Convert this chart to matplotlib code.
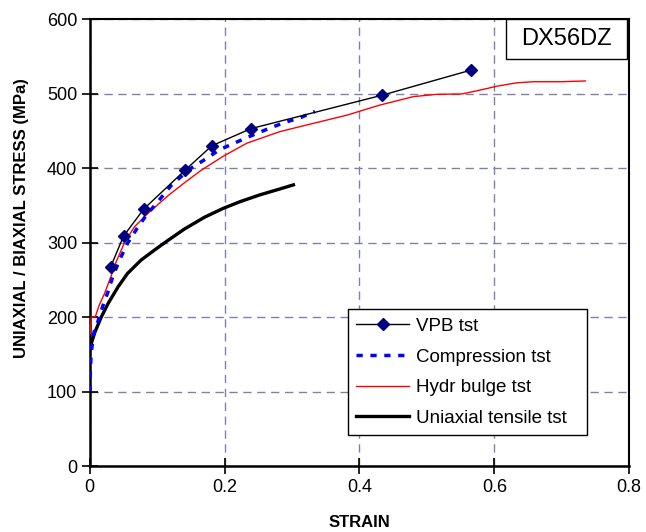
import matplotlib
matplotlib.use("Agg")
import matplotlib.pyplot as plt
from matplotlib.patches import Rectangle

plt.rcParams['font.family'] = ['Liberation Sans', 'DejaVu Sans']

# VPB test points
vpb_strain = [0.031, 0.050, 0.080, 0.141, 0.181, 0.239, 0.434, 0.565]
vpb_stress = [267.5, 308.7, 345, 397, 430, 453, 498, 531.5]

# Compression test
comp_strain = [0.000, 0.001, 0.002, 0.005, 0.007, 0.012, 0.019, 0.027, 0.034, 0.044,
               0.056, 0.070, 0.084, 0.101, 0.121, 0.148, 0.171, 0.193, 0.218, 0.241,
               0.265, 0.288, 0.313, 0.334]
comp_stress = [100, 130, 152, 172, 183, 194, 214, 234, 254, 276.5,
               299, 319, 337, 355, 377, 398.7, 411.7, 425, 435, 444,
               453, 461, 468, 476]

# Hydraulic bulge test
bulge_strain = [0.001, 0.002, 0.008, 0.014, 0.022, 0.032, 0.039, 0.051, 0.066, 0.086,
                0.116, 0.140, 0.165, 0.198, 0.233, 0.282, 0.331, 0.381, 0.430, 0.480,
                0.514, 0.552, 0.580, 0.604, 0.633, 0.658, 0.700, 0.735]
bulge_stress = [178, 200, 200, 216, 232, 256, 274, 299, 321, 339,
                363, 380, 397, 416, 433.5, 449, 460, 471, 484.6, 496,
                499, 499.6, 505, 510, 514.5, 516, 516, 517]

# Uniaxial tensile test
uni_strain = [0.000, 0.007, 0.017, 0.027, 0.042, 0.056, 0.076, 0.096, 0.116, 0.140,
              0.170, 0.198, 0.223, 0.252, 0.280, 0.302]
uni_stress = [158, 178.5, 200, 218, 240.7, 258.6, 276.5, 290, 303, 318,
              334, 346, 355, 364, 371.5, 377.5]

fig = plt.figure(figsize=(6.46, 5.32), dpi=100)
ax = fig.add_axes([0.139, 0.124, 0.835, 0.840])

ax.plot(vpb_strain, vpb_stress, color='black', lw=1.0, marker='D', markersize=6.5,
        markerfacecolor='#000080', markeredgecolor='#000080', label='VPB tst', zorder=5)
ax.plot(comp_strain, comp_stress, color='#0000FF', lw=2.5, linestyle=(0, (1.8, 2.2)),
        label='Compression tst', zorder=4)
ax.plot(bulge_strain, bulge_stress, color='#FF0000', lw=1.0, label='Hydr bulge tst', zorder=3)
ax.plot(uni_strain, uni_stress, color='black', lw=2.4, label='Uniaxial tensile tst', zorder=3)

ax.set_xlim(0, 0.8)
ax.set_ylim(0, 600)
ax.set_xticks([0, 0.2, 0.4, 0.6, 0.8])
ax.set_xticklabels(['0', '0.2', '0.4', '0.6', '0.8'])
ax.set_yticks([0, 100, 200, 300, 400, 500, 600])

ax.grid(True, color='#8080AA', linestyle=(0, (6, 4)), lw=1.0)
ax.set_axisbelow(True)

for side in ['left', 'bottom']:
    ax.spines[side].set_linewidth(1.8)
for side in ['top', 'right']:
    ax.spines[side].set_linewidth(1.5)

ax.tick_params(direction='inout', length=12, width=1.2, labelsize=13, pad=3)

ax.set_xlabel('STRAIN', fontsize=12, fontweight='bold', labelpad=14)
ax.set_ylabel('UNIAXIAL / BIAXIAL STRESS (MPa)', fontsize=12, fontweight='bold')
ax.yaxis.set_label_coords(-0.113, 0.555)

# material name box in the top right corner
ax.add_patch(Rectangle((0.772, 0.9105), 0.224, 0.0895, transform=ax.transAxes,
                       facecolor='white', edgecolor='black', lw=1.0, zorder=6))
ax.text(0.884, 0.955, 'DX56DZ', transform=ax.transAxes, ha='center', va='center',
        fontsize=17, zorder=7)

leg = ax.legend(loc='lower left', bbox_to_anchor=(0.4787, 0.069, 0.4434, 0.28),
                mode='expand', borderaxespad=0,
                fontsize=13.5, fancybox=False, framealpha=1, edgecolor='black',
                handlelength=2.8, borderpad=0.45, labelspacing=0.72, handletextpad=0.4)
leg.get_frame().set_linewidth(1.0)

fig.savefig('out.png', dpi=100)
